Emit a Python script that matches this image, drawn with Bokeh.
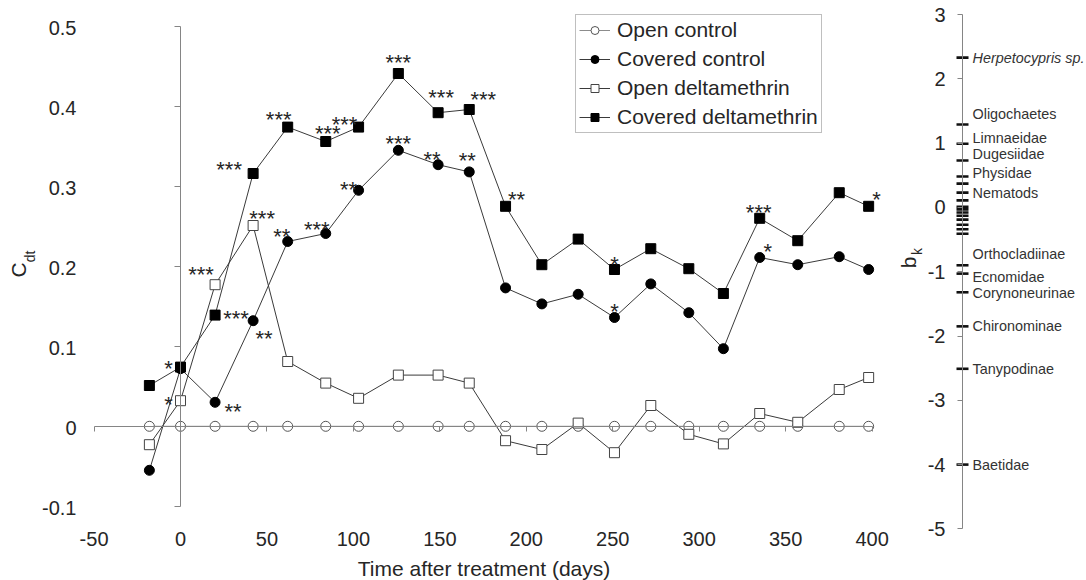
from math import pi
from bokeh.plotting import figure
from bokeh.models import (Range1d, LinearAxis, FixedTicker, ColumnDataSource,
                          LabelSet, Label, Legend, LegendItem)
from bokeh.core.properties import value
from bokeh.embed import file_html
from bokeh.resources import INLINE

# ---------------- data ----------------
days = [-18, 0, 20, 42, 62, 84, 103, 126, 149, 167, 188, 209, 230, 251, 272, 294, 314, 335, 357, 381, 398]

open_control = [0.0, 0.0, 0.0, 0.0, 0.0, 0.0, 0.0, 0.0, 0.0, 0.0, 0.0,
                0.0, 0.0, 0.0, 0.0, 0.0, 0.0, 0.0, 0.0, 0.0, 0.0]
covered_control = [-0.055, 0.072, 0.030, 0.132, 0.231, 0.241, 0.295, 0.345, 0.327, 0.318, 0.173,
                   0.153, 0.165, 0.136, 0.178, 0.142, 0.097, 0.211, 0.202, 0.212, 0.196]
open_delta = [-0.023, 0.032, 0.177, 0.251, 0.081, 0.054, 0.035, 0.064, 0.064, 0.054, -0.018,
              -0.029, 0.004, -0.033, 0.026, -0.010, -0.022, 0.016, 0.005, 0.046, 0.061]
covered_delta = [0.051, 0.074, 0.139, 0.316, 0.374, 0.356, 0.374, 0.441, 0.392, 0.396, 0.275,
                 0.202, 0.234, 0.196, 0.222, 0.197, 0.166, 0.260, 0.232, 0.292, 0.275]

covered_control_sig = ["", "", "**", "**", "**", "***", "**", "***", "**", "**", "",
                       "", "", "*", "", "", "", "*", "", "", ""]
open_delta_sig = ["", "*", "***", "***", "", "", "", "", "", "", "",
                  "", "", "", "", "", "", "", "", "", ""]
covered_delta_sig = ["", "*", "***", "***", "***", "***", "***", "***", "***", "***", "**",
                     "", "", "*", "", "", "", "***", "", "", "*"]

species_names = ["Herpetocypris sp.", "Oligochaetes", "Limnaeidae", "Dugesiidae", "Physidae",
                 "Nematods", "Orthocladiinae", "Ecnomidae", "Corynoneurinae", "Chironominae",
                 "Tanypodinae", "Baetidae"]
species_b = [2.33, 1.29, 0.99, 0.73, 0.48, 0.37, -0.90, -1.03, -1.32, -1.85, -2.51, -4.00]
other_species_b = [0.23, 0.11, 0.01, -0.03, -0.08, -0.13, -0.19, -0.27, -0.34, -0.41]

c_ticks = [-0.1, 0, 0.1, 0.2, 0.3, 0.4, 0.5]
c_tick_labels = ["-0.1", "0", "0.1", "0.2", "0.3", "0.4", "0.5"]
b_ticks = [-5, -4, -3, -2, -1, 0, 1, 2, 3]
b_tick_labels = ["-5", "-4", "-3", "-2", "-1", "0", "1", "2", "3"]
x_ticks = [-50, 0, 50, 100, 150, 200, 250, 300, 350, 400]
x_tick_labels = ["-50", "0", "50", "100", "150", "200", "250", "300", "350", "400"]

# ---------------- layout / style ----------------
W, H = 1086, 580
X0_PX, X_SCALE = 180.0, 1.729     # pixel of day 0, pixels per day
C0_PX, C_SCALE = 425.8, 800.0     # pixel of C=0, pixels per unit
B3_PX, B_SCALE = 14.0, 64.3       # pixel of b=3, pixels per unit
B_AXIS_PX = 962.0

def px2x(px):
    return (px - X0_PX) / X_SCALE

def py2c(py):
    return (C0_PX - py) / C_SCALE

x_start, x_end = px2x(0), px2x(W)
c_start, c_end = py2c(H), py2c(0)
b_start, b_end = 3 - (H - B3_PX) / B_SCALE, 3 + B3_PX / B_SCALE
B_AXIS_X = px2x(B_AXIS_PX)

FONT = "Liberation Sans"
AX_GRAY = "#858585"
TXT = "#262626"
LINE = "#3a3a3a"
STAR_FS = 22

p = figure(width=W, height=H, x_range=Range1d(x_start, x_end), y_range=Range1d(c_start, c_end),
           x_axis_location=None, y_axis_location=None, toolbar_location=None,
           output_backend="svg", min_border_left=0, min_border_right=0,
           min_border_top=0, min_border_bottom=0, outline_line_color=None,
           background_fill_color="white", border_fill_color="white")
p.extra_y_ranges = {"b": Range1d(b_start, b_end)}
p.xgrid.visible = False
p.ygrid.visible = False

def blank(ticks):
    return {t: "" for t in ticks}

# axis lines crossing at zero, and the b_k axis
x0_axis = LinearAxis(fixed_location=0, bounds=(-50, 400), ticker=FixedTicker(ticks=x_ticks),
                     major_tick_in=5, major_tick_out=0, axis_line_color=AX_GRAY,
                     major_tick_line_color=AX_GRAY, minor_tick_line_color=None,
                     major_label_overrides=blank(x_ticks), major_label_standoff=0,
                     major_label_text_font_size="0px")
p.add_layout(x0_axis, "above")

c0_axis = LinearAxis(fixed_location=0, bounds=(-0.1, 0.5), ticker=FixedTicker(ticks=c_ticks),
                     major_tick_in=6, major_tick_out=0, axis_line_color=AX_GRAY,
                     major_tick_line_color=AX_GRAY, minor_tick_line_color=None,
                     major_label_overrides=blank(c_ticks), major_label_standoff=0,
                     major_label_text_font_size="0px")
p.add_layout(c0_axis, "right")

b_axis = LinearAxis(y_range_name="b", fixed_location=B_AXIS_X, bounds=(-5, 3),
                    ticker=FixedTicker(ticks=b_ticks), major_tick_in=5, major_tick_out=0,
                    axis_line_color=AX_GRAY, major_tick_line_color=AX_GRAY,
                    minor_tick_line_color=None, major_label_overrides=blank(b_ticks),
                    major_label_standoff=0, major_label_text_font_size="0px")
p.add_layout(b_axis, "right")

# tick labels
c_src = ColumnDataSource(dict(x=[px2x(76)] * len(c_ticks), y=c_ticks, t=c_tick_labels))
p.add_layout(LabelSet(x="x", y="y", text="t", source=c_src, text_align="right",
                      text_baseline="middle", text_font=value(FONT), text_font_size="20px",
                      text_color=TXT, y_offset=-1.5))
x_src = ColumnDataSource(dict(x=x_ticks, y=[py2c(538.5)] * len(x_ticks), t=x_tick_labels))
p.add_layout(LabelSet(x="x", y="y", text="t", source=x_src, text_align="center",
                      text_baseline="middle", text_font=value(FONT), text_font_size="20px",
                      text_color=TXT))
b_src = ColumnDataSource(dict(x=[B_AXIS_X] * len(b_ticks), y=b_ticks, t=b_tick_labels))
p.add_layout(LabelSet(x="x", y="y", text="t", source=b_src, y_range_name="b", x_offset=-17,
                      text_align="right", text_baseline="middle", text_font=value(FONT),
                      text_font_size="20px", text_color=TXT))

# species scores
p.scatter(x=[B_AXIS_X] * len(species_b), y=species_b, y_range_name="b", marker="dash",
          size=12, line_width=2.6, line_color="#111111")
p.scatter(x=[B_AXIS_X] * len(other_species_b), y=other_species_b, y_range_name="b", marker="dash",
          size=12, line_width=2.6, line_color="#111111")
label_shift = [0, -10, -6, -6, -4, 9, -11, 3, 1, 0, 0, 0]
sp_src = ColumnDataSource(dict(x=[B_AXIS_X] * len(species_b), y=species_b, t=species_names,
                               yo=[-s for s in label_shift],
                               st=["italic"] + ["normal"] * (len(species_b) - 1)))
p.add_layout(LabelSet(x="x", y="y", text="t", source=sp_src, y_range_name="b", x_offset=10,
                      y_offset="yo", text_align="left", text_baseline="middle",
                      text_font=value(FONT), text_font_size="14.4px", text_color="#333333",
                      text_font_style="st"))

# series
l_oc = p.line(days, open_control, line_color="#8c8c8c", line_width=1)
s_oc = p.scatter(days, open_control, marker="circle", size=10, fill_color="white",
                 line_color="#555555", line_width=1)
l_cc = p.line(days, covered_control, line_color=LINE, line_width=1)
s_cc = p.scatter(days, covered_control, marker="circle", size=10, fill_color="black",
                 line_color="black")
l_od = p.line(days, open_delta, line_color=LINE, line_width=1)
s_od = p.scatter(days, open_delta, marker="square", size=10, fill_color="white",
                 line_color="#444444", line_width=1)
l_cd = p.line(days, covered_delta, line_color=LINE, line_width=1)
s_cd = p.scatter(days, covered_delta, marker="square", size=10, fill_color="black",
                 line_color="black")

# significance stars (offsets in pixels from the point: right, down)
cc_off = {2: (18, 3), 3: (11, 12), 4: (-6, -11), 5: (-9, -10), 6: (-10, -7), 7: (0, -13),
          8: (-6, -11), 9: (-2, -18), 13: (0, -12), 17: (8, -12)}
od_off = {1: (-12, -2), 2: (-14, -16), 3: (9, -13)}
cd_off = {1: (-12, -5), 2: (21, -3), 3: (-24, -10), 4: (-9, -14), 5: (2, -14), 6: (-14, -9),
          7: (0, -17), 8: (3, -21), 9: (14, -16), 10: (11, -13), 13: (0, -11), 17: (-1, -12),
          20: (8, -13)}

def star_layer(sig, ys, offs):
    xs, yv, tx, xo, yo = [], [], [], [], []
    for i, s in enumerate(sig):
        if s:
            dx, dy = offs[i]
            xs.append(days[i]); yv.append(ys[i]); tx.append(s)
            xo.append(dx); yo.append(-(dy + 0.28 * STAR_FS))
    src = ColumnDataSource(dict(x=xs, y=yv, t=tx, xo=xo, yo=yo))
    p.add_layout(LabelSet(x="x", y="y", text="t", source=src, x_offset="xo", y_offset="yo",
                          text_align="center", text_baseline="middle", text_font=value(FONT),
                          text_font_size=f"{STAR_FS}px", text_color=TXT))

star_layer(covered_control_sig, covered_control, cc_off)
star_layer(open_delta_sig, open_delta, od_off)
star_layer(covered_delta_sig, covered_delta, cd_off)

# axis titles
def add_label(px, py, text, size, angle=pi / 2):
    p.add_layout(Label(x=px2x(px), y=py2c(py), text=text, angle=angle, text_align="center",
                       text_baseline="middle", text_font=FONT, text_font_size=size,
                       text_color=TXT))

add_label(17.5, 269.5, "C", "21px")
add_label(29, 256, "dt", "14px")
add_label(908, 262, "b", "21px")
add_label(916, 251, "k", "14px")
add_label(483.5, 568, "Time after treatment (days)", "21px", angle=0)

legend = Legend(items=[LegendItem(label="Open control", renderers=[l_oc, s_oc]),
                       LegendItem(label="Covered control", renderers=[l_cc, s_cc]),
                       LegendItem(label="Open deltamethrin", renderers=[l_od, s_od]),
                       LegendItem(label="Covered deltamethrin", renderers=[l_cd, s_cd])],
                location=(575, H - 133), orientation="vertical",
                glyph_width=31, glyph_height=20, label_standoff=7, padding=3, spacing=5,
                label_height=22, margin=0, label_text_font=FONT, label_text_font_size="21px",
                label_text_color=TXT, border_line_color="#808080", border_line_width=1,
                background_fill_color="white", background_fill_alpha=1.0)
p.add_layout(legend)

open("out.html", "w").write(file_html(p, INLINE))
